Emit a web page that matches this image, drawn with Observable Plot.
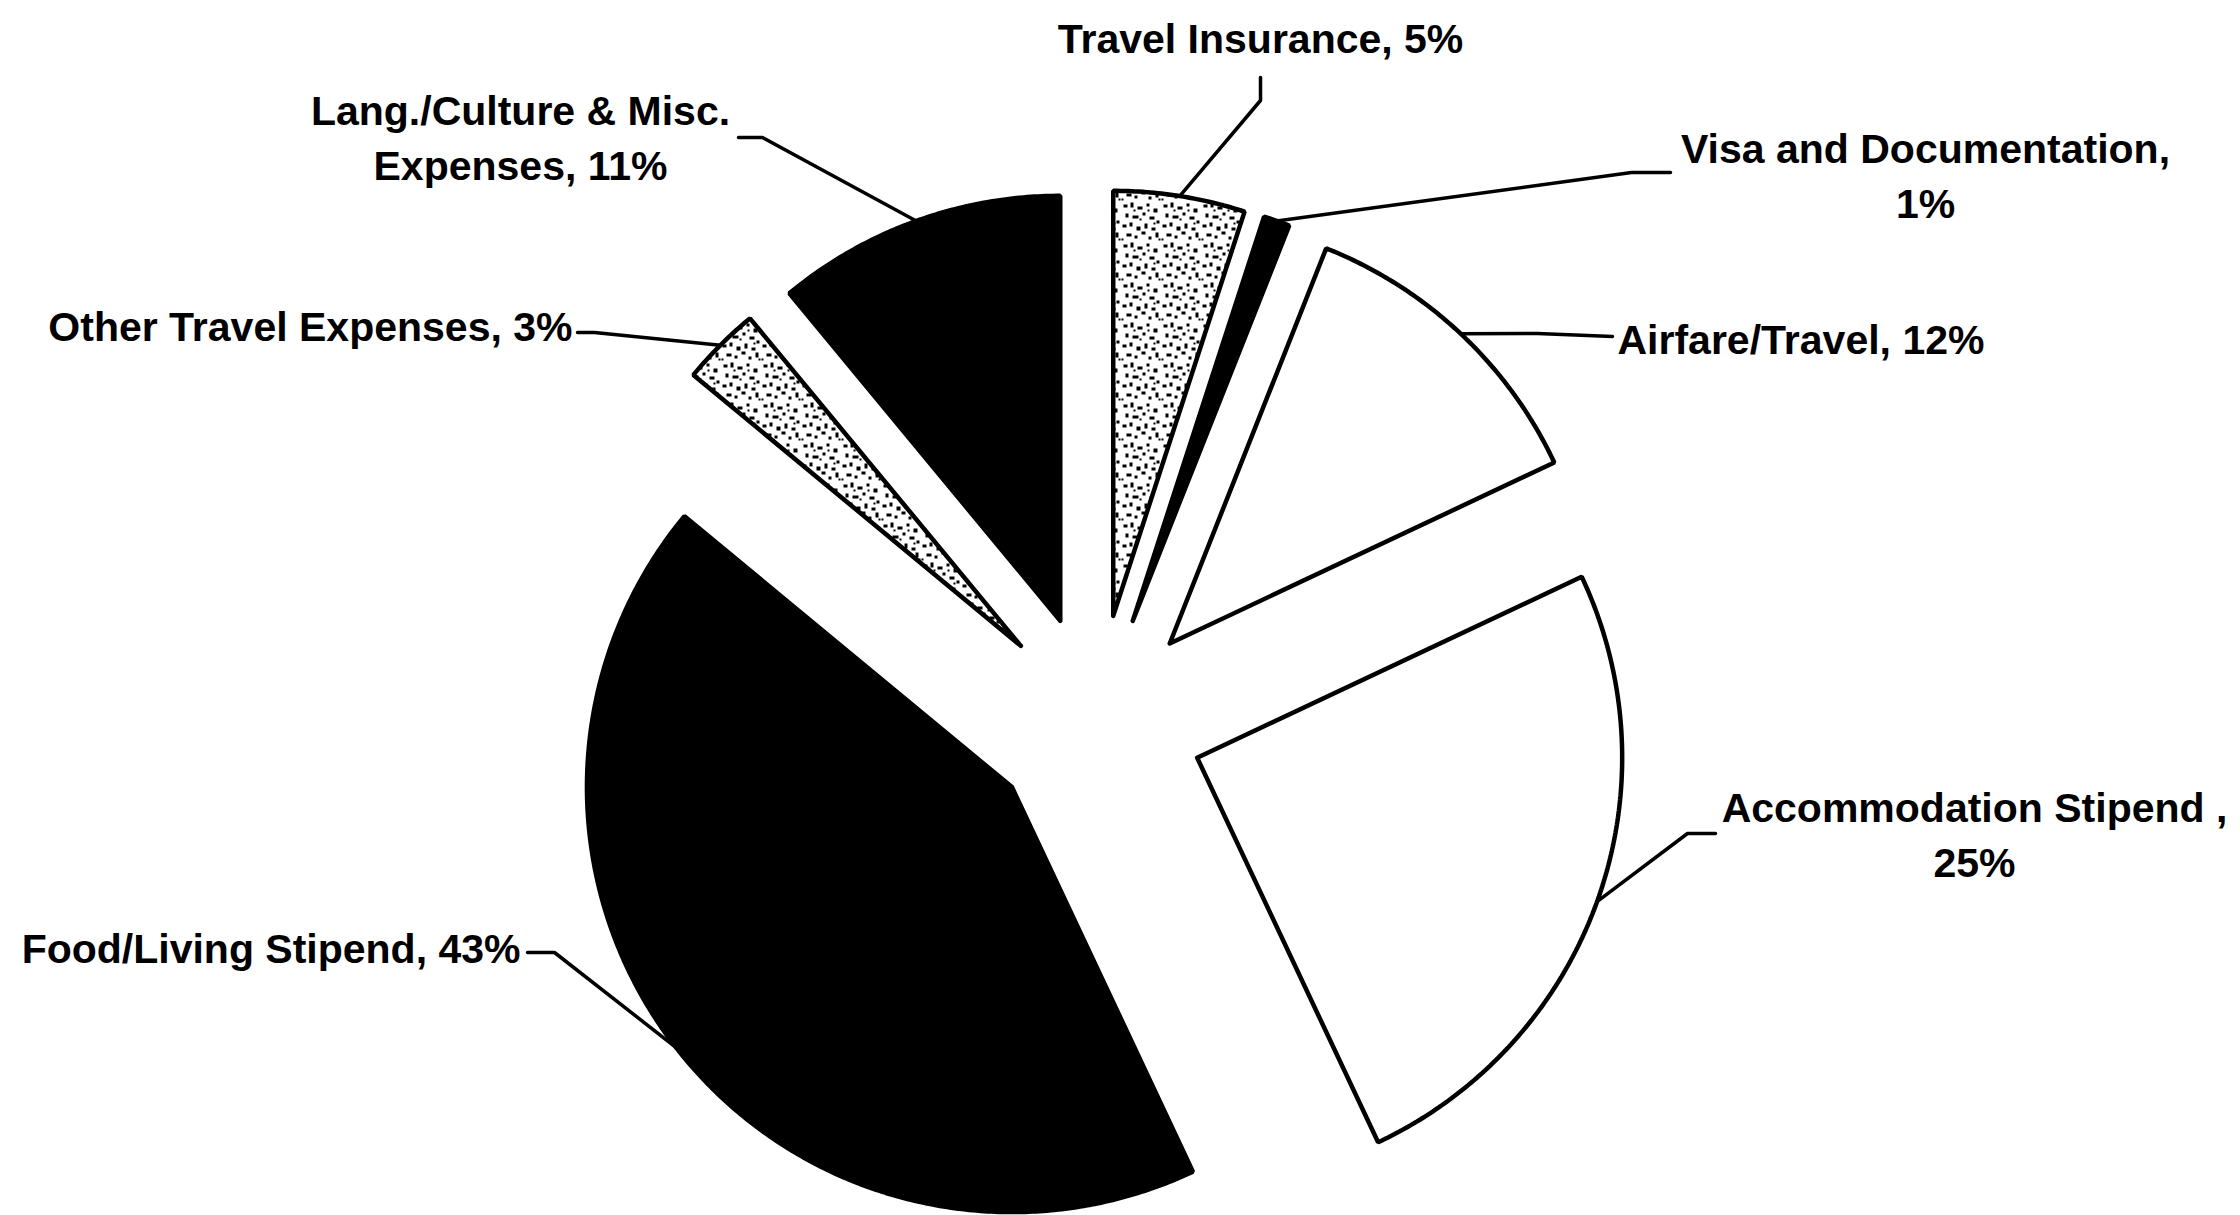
<!DOCTYPE html>
<html>
<head>
<meta charset="utf-8">
<script src="https://cdn.jsdelivr.net/npm/d3@7"></script>
<script src="https://cdn.jsdelivr.net/npm/@observablehq/plot@0.6"></script>
<style>
html, body { margin: 0; padding: 0; background: #fff; }
#chart svg { display: block; }
</style>
</head>
<body>
<div id="chart"></div>
<script>
// ---------- DATA ----------
const categories = [
  "Travel Insurance",
  "Visa and Documentation",
  "Airfare/Travel",
  "Accommodation Stipend",
  "Food/Living Stipend",
  "Other Travel Expenses",
  "Lang./Culture & Misc. Expenses"
];
const shares = [5, 1, 12, 25, 43, 3, 11];
const fillKinds = ["dots", "black", "white", "white", "black", "dots", "black"];
const labelLines = [
  ["Travel Insurance, 5%"],
  ["Visa and Documentation,", "1%"],
  ["Airfare/Travel, 12%"],
  ["Accommodation Stipend ,", "25%"],
  ["Food/Living Stipend, 43%"],
  ["Other Travel Expenses, 3%"],
  ["Lang./Culture & Misc.", "Expenses, 11%"]
];

// ---------- LAYOUT ----------
const W = 2240, H = 1215;
const pie = {cx: 1096, cy: 721, r: 425, explode: 107};
const lineGap = 55;
const labelLayout = [
  {x: 1260, y: 52,  anchor: "middle", bend: [1260, 100], end: [1260, 77]},
  {x: 1925, y: 162, anchor: "middle", bend: [1631, 172], end: [1670, 172]},
  {x: 1617, y: 353, anchor: "start",  bend: [1537, 333], end: [1612, 336]},
  {x: 1974, y: 821, anchor: "middle", bend: [1687, 833], end: [1715, 833]},
  {x: 520,  y: 962, anchor: "end",    bend: [554, 952],  end: [527, 952]},
  {x: 572,  y: 340, anchor: "end",    bend: [594, 332],  end: [577, 332]},
  {x: 520,  y: 124, anchor: "middle", bend: [762, 137],  end: [738, 137]}
];

// ---------- BUILD ----------
const rows = categories.map((name, i) => ({name, share: shares[i], kind: fillKinds[i], i}));
const arcs = d3.pie().sort(null).value(d => d.share).startAngle(0).endAngle(2 * Math.PI)(rows);

const slicePts = [];
const leaderPts = [];
const textRows = [];
arcs.forEach(a => {
  const d = a.data;
  const mid = (a.startAngle + a.endAngle) / 2;
  const ox = pie.cx + pie.explode * Math.sin(mid);
  const oy = pie.cy - pie.explode * Math.cos(mid);
  const n = Math.max(4, Math.ceil((a.endAngle - a.startAngle) / (Math.PI / 360)));
  slicePts.push({name: d.name, kind: d.kind, px: ox, py: oy});
  for (let k = 0; k <= n; k++) {
    const t = a.startAngle + (a.endAngle - a.startAngle) * k / n;
    slicePts.push({name: d.name, kind: d.kind, px: ox + pie.r * Math.sin(t), py: oy - pie.r * Math.cos(t)});
  }
  slicePts.push({name: d.name, kind: d.kind, px: ox, py: oy});

  const L = labelLayout[d.i];
  leaderPts.push({name: d.name, px: ox + pie.r * Math.sin(mid), py: oy - pie.r * Math.cos(mid)});
  leaderPts.push({name: d.name, px: L.bend[0], py: L.bend[1]});
  leaderPts.push({name: d.name, px: L.end[0], py: L.end[1]});

  labelLines[d.i].forEach((t, j) => {
    textRows.push({text: t, px: L.x, py: L.y + j * lineGap, anchor: L.anchor});
  });
});

const sliceMark = (kind, fill) => Plot.line(slicePts, {
  filter: p => p.kind === kind,
  x: "px", y: "py", z: "name",
  fill, stroke: "black", strokeWidth: 4.5, strokeLinejoin: "miter", curve: "linear"
});
const textMark = anchor => Plot.text(textRows, {
  filter: r => r.anchor === anchor,
  x: "px", y: "py", text: "text",
  textAnchor: anchor, lineAnchor: "bottom",
  fontSize: 41, fontWeight: "bold", fill: "black",
  fontFamily: "'Liberation Sans', Arial, sans-serif"
});

const chart = Plot.plot({
  width: W, height: H,
  margin: 0,
  style: {background: "white", color: "black"},
  x: {domain: [0, W], range: [0, W], axis: null},
  y: {domain: [0, H], range: [0, H], axis: null},
  marks: [
    sliceMark("white", "white"),
    sliceMark("dots", "url(#dots)"),
    sliceMark("black", "black"),
    Plot.line(leaderPts, {x: "px", y: "py", z: "name", stroke: "black", strokeWidth: 3.5, curve: "linear"}),
    textMark("middle"),
    textMark("start"),
    textMark("end")
  ]
});

// stipple pattern used by the dotted slices
const ns = "http://www.w3.org/2000/svg";
const defs = document.createElementNS(ns, "defs");
const specks = [
  [3,4,4,3],[10,2,3,5],[17,6,5,3],[26,3,3,3],[33,8,4,4],[5,13,3,4],[12,15,6,3],
  [22,12,3,3],[29,16,5,3],[36,20,3,3],[2,24,4,3],[9,22,3,4],[16,26,4,4],[24,23,3,5],
  [31,27,4,3],[6,33,5,3],[14,35,3,3],[21,31,4,3],[28,36,3,3],[35,32,3,5],[19,18,2,2],
  [38,38,2,2],[1,38,2,2],[27,9,2,2],[13,9,2,2],[33,22,2,2]
];
const pat = document.createElementNS(ns, "pattern");
pat.setAttribute("id", "dots");
pat.setAttribute("width", 40);
pat.setAttribute("height", 40);
pat.setAttribute("patternUnits", "userSpaceOnUse");
const bg = document.createElementNS(ns, "rect");
bg.setAttribute("width", 40); bg.setAttribute("height", 40); bg.setAttribute("fill", "white");
pat.appendChild(bg);
specks.forEach(([x, y, w, h]) => {
  const r = document.createElementNS(ns, "rect");
  r.setAttribute("x", x); r.setAttribute("y", y);
  r.setAttribute("width", w); r.setAttribute("height", h);
  r.setAttribute("fill", "black");
  pat.appendChild(r);
});
defs.appendChild(pat);
chart.insertBefore(defs, chart.firstChild);

document.getElementById("chart").appendChild(chart);
</script>
</body>
</html>
